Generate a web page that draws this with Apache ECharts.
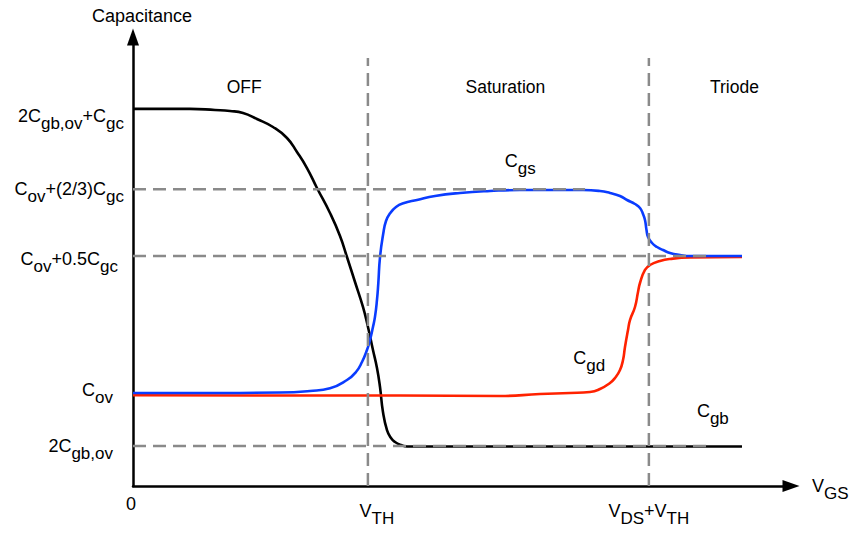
<!DOCTYPE html>
<html><head><meta charset="utf-8">
<script src="https://cdn.jsdelivr.net/npm/echarts@6/dist/echarts.min.js"></script>
<style>html,body{margin:0;padding:0;background:#fff}#c{width:857px;height:533px}</style>
</head><body><div id="c"></div>
<script>
// ---------------- data ----------------
const vTH = 35.7;
const vDSplusTH = 78.4;

const yTickValues = [84.0, 66.1, 51.2, 20.5, 8.9];
const yTickLabels = [
  [['2C', 'gb,ov'], ['+C', 'gc']],
  [['C', 'ov'], ['+(2/3)C', 'gc']],
  [['C', 'ov'], ['+0.5C', 'gc']],
  [['C', 'ov']],
  [['2C', 'gb,ov']]
];
const xTickValues = [0, vTH, vDSplusTH];
const xTickLabels = [
  [['0', '']],
  [['V', 'TH']],
  [['V', 'DS'], ['+V', 'TH']]
];
const xAxisName = [['V', 'GS']];
const yAxisName = 'Capacitance';

const regionNames = ['OFF', 'Saturation', 'Triode'];
const regionLabelX = [16.9, 56.6, 91.4];
const regionLabelY = 88.9;

const curveNames = [[['C', 'gs']], [['C', 'gd']], [['C', 'gb']]];
const curveLabelX = [56.5, 66.9, 85.7];
const curveLabelY = [72.3, 28.5, 16.7];

// Cgb (black)
const cgbX = [0, 4.1, 8.66, 12.46, 14.74, 16.72, 18.84, 21.28, 23.40, 24.92, 26.44, 27.96, 29.94, 31.46, 32.52, 33.74, 34.95, 35.71, 36.47, 37.08, 37.54, 37.99, 38.60, 39.21, 39.82, 40.73, 41.64, 45.14, 55.78, 70.97, 86.17, 92.55];
const cgbY = [84.0, 84.0, 84.0, 83.74, 83.52, 83.07, 81.74, 79.96, 77.51, 74.39, 70.82, 66.37, 60.80, 55.68, 51.00, 45.43, 39.87, 35.41, 30.29, 26.28, 22.05, 16.48, 12.47, 10.69, 9.80, 9.13, 8.8, 8.8, 8.8, 8.8, 8.8, 8.8];
// Cgs (blue)
const cgsX = [0, 10.18, 22.34, 26.90, 29.94, 32.52, 33.89, 34.80, 35.56, 36.02, 36.47, 36.78, 37.08, 37.28, 37.54, 38.04, 38.45, 39.06, 39.97, 41.08, 43.16, 45.90, 49.70, 54.26, 58.81, 64.89, 68.39, 70.97, 72.49, 74.01, 75.08, 76.29, 77.05, 77.51, 77.81, 78.04, 78.27, 78.88, 79.64, 80.55, 81.61, 83.13, 84.65, 92.55];
const cgsY = [20.71, 20.71, 20.82, 21.16, 21.76, 23.61, 25.39, 27.62, 30.29, 32.52, 35.41, 37.71, 41.43, 45.14, 51.00, 56.28, 59.02, 60.73, 62.14, 62.96, 63.70, 64.59, 65.26, 65.70, 65.92, 65.92, 65.92, 65.70, 65.26, 64.59, 63.70, 62.81, 61.92, 60.58, 59.24, 57.02, 55.46, 54.12, 53.23, 52.56, 51.89, 51.45, 51.22, 51.22];
// Cgd (red)
const cgdX = [0, 25.38, 40.58, 55.78, 61.85, 66.41, 69.45, 70.97, 72.49, 73.25, 74.01, 74.47, 74.77, 75.23, 75.53, 76.29, 76.75, 77.05, 77.81, 78.57, 80.09, 81.61, 84.65, 92.55];
const cgdY = [20.20, 20.16, 20.16, 20.04, 20.49, 20.71, 20.94, 21.60, 22.94, 24.05, 25.84, 28.06, 30.96, 34.74, 36.97, 39.87, 43.21, 45.21, 48.11, 49.22, 50.11, 50.56, 50.89, 51.0];

// guide lines
const hGuideY = [66.1, 51.2, 8.9];
const hGuideEndX = [68.7, 87.2, 87.4];
const vGuideX = [vTH, vDSplusTH];
const vGuideTop = 95.3;

// ---------------- layout / style ----------------
const FONT = '"Liberation Sans", Arial, Helvetica, sans-serif';
const MAIN_FS = 18, SUB_FS = 17, SUBPAD = 15;
const yLabelDy = [7, 0, 3, -4, 0];
const yLabelRightGap = [0, 0, 6, 11, 11];
const xLabelShift = [-2, 9, 0];

const rich = {};
function addPair(key, d) {
  const up = Math.max(0, 2 * d), dn = Math.max(0, -2 * d);
  rich['m' + key] = { fontSize: MAIN_FS, fontFamily: FONT, color: '#000', padding: [up, 0, dn, 0] };
  rich['s' + key] = { fontSize: SUB_FS, fontFamily: FONT, color: '#000', padding: [SUBPAD + up, 0, dn, 0] };
}
function toRich(segs, key) {
  return segs.map(function (p) { return '{m' + key + '|' + p[0] + '}' + (p[1] ? '{s' + key + '|' + p[1] + '}' : ''); }).join('');
}
function nearest(arr, v) {
  let bi = 0, bd = Infinity;
  arr.forEach(function (a, i) { const d = Math.abs(a - v); if (d < bd) { bd = d; bi = i; } });
  return bi;
}
addPair('n', 0);
yTickValues.forEach(function (v, i) {
  addPair('y' + i, yLabelDy[i]);
  rich['gy' + i] = { width: yLabelRightGap[i] };
});
xTickValues.forEach(function (v, i) {
  rich['gx' + i] = { width: Math.abs(xLabelShift[i]) * 2 };
});

function pts(xs, ys) { return xs.map(function (x, i) { return [x, ys[i]]; }); }

const axisLineStyle = { color: '#000', width: 2.5 };
const guideStyle = { color: '#8a8a8a', width: 2.5, type: [13, 7] };
const labelBase = { show: true, color: '#000', fontFamily: FONT, textBorderWidth: 0, textShadowBlur: 0, opacity: 1 };

const series = [];
series.push({ type: 'line', name: 'Cgb', data: pts(cgbX, cgbY), symbol: 'none', smooth: 0.5,
  lineStyle: { color: '#000', width: 2.6 }, z: 2, silent: true });
series.push({ type: 'line', name: 'Cgd', data: pts(cgdX, cgdY), symbol: 'none', smooth: 0.5,
  lineStyle: { color: '#ff2200', width: 2.6 }, z: 3, silent: true });
series.push({ type: 'line', name: 'Cgs', data: pts(cgsX, cgsY), symbol: 'none', smooth: 0.5,
  lineStyle: { color: '#0a3cff', width: 2.6 }, z: 4, silent: true });
hGuideY.forEach(function (y, i) {
  series.push({ type: 'line', data: [[0, y], [hGuideEndX[i], y]], symbol: 'none', lineStyle: guideStyle, z: 5, silent: true });
});
vGuideX.forEach(function (x) {
  series.push({ type: 'line', data: [[x, 0], [x, vGuideTop]], symbol: 'none', lineStyle: guideStyle, z: 5, silent: true });
});
series.push({
  type: 'scatter', silent: true, z: 6, symbolSize: 0.01, itemStyle: { color: '#000', opacity: 0 },
  data: regionNames.map(function (n, i) { return [regionLabelX[i], regionLabelY]; }),
  label: Object.assign({}, labelBase, { position: 'inside', align: 'center', verticalAlign: 'middle', fontSize: 17.5,
    formatter: function (p) { return regionNames[p.dataIndex]; } })
});
series.push({
  type: 'scatter', silent: true, z: 6, symbolSize: 0.01, itemStyle: { color: '#000', opacity: 0 },
  data: curveNames.map(function (n, i) { return [curveLabelX[i], curveLabelY[i]]; }),
  label: Object.assign({}, labelBase, { position: 'inside', align: 'left', verticalAlign: 'middle', rich: rich,
    formatter: function (p) { return toRich(curveNames[p.dataIndex], 'n'); } })
});

const chart = echarts.init(document.getElementById('c'), null, { renderer: 'svg' });
chart.setOption({
  animation: false,
  backgroundColor: '#fff',
  grid: { left: 133, right: 66, top: 37, bottom: 47, containLabel: false },
  xAxis: {
    type: 'value', min: 0, max: 100,
    axisLine: { show: true, onZero: false, lineStyle: axisLineStyle, symbol: ['none', 'triangle'], symbolSize: [12, 17] },
    axisTick: { show: false }, splitLine: { show: false },
    axisLabel: {
      show: true, margin: 9, customValues: xTickValues, rich: rich,
      formatter: function (v) {
        const i = nearest(xTickValues, v);
        const s = toRich(xTickLabels[i], 'n');
        const g = '{gx' + i + '|}';
        if (xLabelShift[i] > 0) return g + s;
        if (xLabelShift[i] < 0) return s + g;
        return s;
      }
    },
    name: toRich(xAxisName, 'n'), nameLocation: 'end', nameGap: 21,
    nameTextStyle: { rich: rich, align: 'left', verticalAlign: 'middle' }
  },
  yAxis: {
    type: 'value', min: 0, max: 100,
    axisLine: { show: true, onZero: false, lineStyle: axisLineStyle, symbol: ['none', 'triangle'], symbolSize: [12, 17] },
    axisTick: { show: false }, splitLine: { show: false },
    axisLabel: {
      show: true, margin: 9, customValues: yTickValues, rich: rich,
      formatter: function (v) {
        const i = nearest(yTickValues, v);
        let s = toRich(yTickLabels[i], 'y' + i);
        if (yLabelRightGap[i]) s += '{gy' + i + '|}';
        return s;
      }
    },
    name: yAxisName, nameLocation: 'end', nameGap: 12,
    nameTextStyle: { fontSize: 18, fontFamily: FONT, color: '#000', padding: [0, 0, 0, 18] }
  },
  series: series
});
</script>
</body></html>
